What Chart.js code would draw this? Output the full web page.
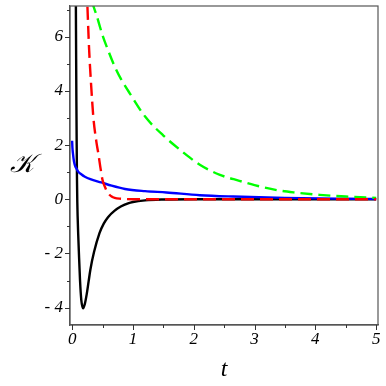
<!DOCTYPE html>
<html>
<head>
<meta charset="utf-8">
<script src="https://cdn.jsdelivr.net/npm/chart.js@4"></script>
<style>
html,body{margin:0;padding:0;background:#fff;}
#wrap{width:386px;height:386px;}
</style>
</head>
<body>
<div id="wrap"><canvas id="c" width="386" height="386"></canvas></div>
<script>
// Black solid curve
const blackT = [0.055, 0.062, 0.066, 0.070, 0.075, 0.080, 0.085, 0.090, 0.100, 0.110, 0.130, 0.150, 0.180, 0.210, 0.240, 0.270, 0.300, 0.360, 0.450, 0.520, 0.590, 0.700, 0.800, 0.920, 1.000, 1.200, 1.500, 2.000, 3.000, 4.000, 5.000];
const blackK = [10.0, 7.0, 5.2, 3.6, 2.0, 0.7, -0.1, -0.6, -1.3, -1.9, -3.0, -3.7, -4.02, -3.85, -3.5, -3.05, -2.6, -1.95, -1.25, -0.9, -0.66, -0.42, -0.27, -0.15, -0.10, -0.04, -0.01, 0.0, 0.0, 0.0, 0.0];
// Red dashed curve
const redT = [0.24, 0.25, 0.28, 0.31, 0.35, 0.40, 0.43, 0.47, 0.50, 0.55, 0.59, 0.65, 0.70, 0.80, 1.00, 2.00, 3.00, 4.00, 5.00];
const redK = [7.8, 7.2, 5.5, 4.3, 3.0, 2.1, 1.7, 1.1, 0.71, 0.40, 0.23, 0.10, 0.05, 0.02, 0.0, 0.0, 0.0, 0.0, 0.0];
// Green dashed curve
const greenT = [0.33, 0.35, 0.40, 0.50, 0.60, 0.70, 0.80, 0.95, 1.20, 1.50, 1.80, 2.10, 2.43, 2.75, 3.00, 3.41, 3.70, 4.07, 4.50, 5.00];
const greenK = [7.3, 7.13, 6.8, 6.05, 5.45, 4.9, 4.45, 3.9, 3.05, 2.35, 1.78, 1.27, 0.90, 0.68, 0.52, 0.32, 0.24, 0.16, 0.10, 0.05];
// Blue solid curve
const blueT = [0.0, 0.005, 0.013, 0.03, 0.05, 0.07, 0.10, 0.15, 0.21, 0.30, 0.48, 0.65, 0.87, 1.20, 1.55, 2.10, 2.65, 3.50, 4.50, 5.00];
const blueK = [2.16, 1.9, 1.7, 1.4, 1.22, 1.14, 1.02, 0.92, 0.83, 0.74, 0.62, 0.50, 0.38, 0.30, 0.25, 0.15, 0.10, 0.05, 0.02, 0.01];
// Axis ticks
const xTicks = [0, 0.5, 1, 1.5, 2, 2.5, 3, 3.5, 4, 4.5, 5];
const xTickLabels = ['0', '', '1', '', '2', '', '3', '', '4', '', '5'];
const yTicks = [-4, -3, -2, -1, 0, 1, 2, 3, 4, 5, 6, 7];
const yTickLabels = ['- 4', '', '- 2', '', '0', '', '2', '', '4', '', '6', ''];
const xTitle = 't';
const yTitle = '𝒦';

function pts(ts, ks){ return ts.map((t,i)=>({x:t, y:ks[i]})); }

const labelFont = "italic 17px 'Liberation Serif', 'Times New Roman', serif";

const boxPlugin = {
  id:'box',
  afterDatasetsDraw(chart){
    const {ctx, chartArea:a} = chart;
    ctx.save();
    ctx.strokeStyle = '#555';
    ctx.lineWidth = 1.2;
    ctx.strokeRect(a.left, a.top, a.right-a.left, a.bottom-a.top);
    ctx.restore();
  },
  afterDraw(chart){
    const {ctx, chartArea:a, scales} = chart;
    ctx.save();
    // tick marks
    ctx.strokeStyle = '#333';
    ctx.lineWidth = 1;
    ctx.beginPath();
    xTicks.forEach((v,i)=>{
      const px = Math.round(scales.x.getPixelForValue(v)) + 0.5;
      const len = xTickLabels[i] ? 5 : 3;
      ctx.moveTo(px, a.bottom); ctx.lineTo(px, a.bottom + len);
    });
    yTicks.forEach((v,i)=>{
      const py = Math.round(scales.y.getPixelForValue(v)) + 0.5;
      const len = yTickLabels[i] ? 5 : 3;
      ctx.moveTo(a.left, py); ctx.lineTo(a.left - len, py);
    });
    ctx.stroke();
    ctx.fillStyle = '#000';
    ctx.font = labelFont;
    // x tick labels
    ctx.textAlign = 'center';
    ctx.textBaseline = 'middle';
    xTicks.forEach((v,i)=>{
      if (xTickLabels[i]) ctx.fillText(xTickLabels[i], scales.x.getPixelForValue(v), a.bottom + 15);
    });
    // y tick labels
    ctx.textAlign = 'right';
    yTicks.forEach((v,i)=>{
      if (yTickLabels[i]) ctx.fillText(yTickLabels[i], a.left - 7, scales.y.getPixelForValue(v));
    });
    // titles
    ctx.textAlign = 'center';
    ctx.font = "italic 24px 'Liberation Serif', serif";
    ctx.fillText(xTitle, (a.left+a.right)/2, a.bottom + 45);
    ctx.font = "italic 26px 'Liberation Serif', 'DejaVu Serif', serif";
    ctx.fillText(yTitle, 22, 165);
    ctx.restore();
  }
};

const base = {pointRadius:0, borderWidth:2.4, fill:false, cubicInterpolationMode:'monotone', showLine:true};

new Chart(document.getElementById('c'), {
  type:'scatter',
  data:{
    datasets:[
      Object.assign({label:'black', data:pts(blackT, blackK), borderColor:'#000000', order:4}, base),
      Object.assign({label:'blue', data:pts(blueT, blueK), borderColor:'#0000ff', order:3}, base),
      Object.assign({label:'green', data:pts(greenT, greenK), borderColor:'#00ff00', borderDash:[12,6], order:2}, base),
      Object.assign({label:'red', data:pts(redT, redK), borderColor:'#ff0000', borderDash:[13,6], order:1}, base)
    ]
  },
  options:{
    responsive:false,
    animation:false,
    layout:{padding:{top:6, right:8, left:0, bottom:0}},
    plugins:{legend:{display:false}, tooltip:{enabled:false}},
    scales:{
      x:{
        type:'linear', min:-0.035, max:5.03,
        afterBuildTicks(s){ s.ticks = xTicks.map(v=>({value:v})); },
        afterFit(s){ s.height = 61; },
        grid:{display:false},
        border:{color:'#555', width:1.2},
        ticks:{display:false}
      },
      y:{
        type:'linear', min:-4.64, max:7.13,
        afterBuildTicks(s){ s.ticks = yTicks.map(v=>({value:v})); },
        afterFit(s){ s.width = 70; },
        grid:{display:false},
        border:{color:'#555', width:1.2},
        ticks:{display:false}
      }
    }
  },
  plugins:[boxPlugin]
});
</script>
</body>
</html>
